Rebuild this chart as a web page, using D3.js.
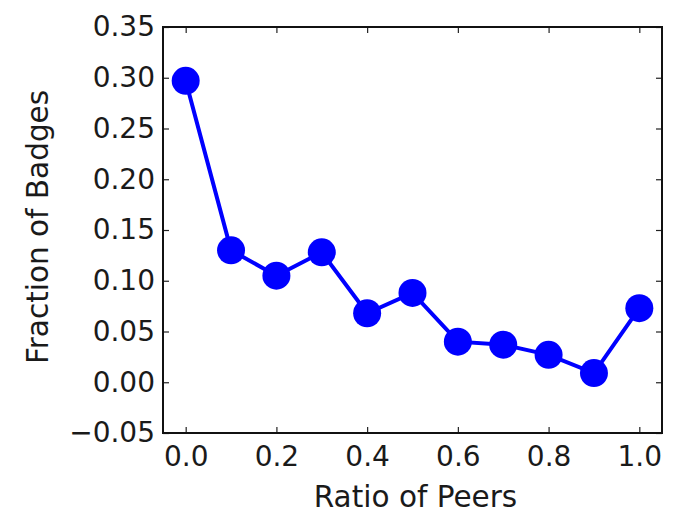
<!DOCTYPE html>
<html lang="en">
<head>
<meta charset="utf-8" />
<title>Fraction of Badges</title>
<style>
    body { margin: 0; background: #fff; }
    svg { display: block; }
</style>
<script src="https://d3js.org/d3.v7.min.js"></script>
</head>
<body>
<svg width="681" height="513"></svg>
<script>
    // chart data
    const ratios = [0.0, 0.1, 0.2, 0.3, 0.4, 0.5, 0.6, 0.7, 0.8, 0.9, 1.0];
    const fractions = [0.297, 0.130, 0.105, 0.128, 0.068, 0.088, 0.040, 0.037, 0.027, 0.009, 0.073];
    const xTicks = [0.0, 0.2, 0.4, 0.6, 0.8, 1.0];
    const yTicks = [-0.05, 0.00, 0.05, 0.10, 0.15, 0.20, 0.25, 0.30, 0.35];

    const points = ratios.map((r, i) => ({ x: r, y: fractions[i] }));

    const svg = d3.select("svg");
    const margin = { top: 27, right: 19, bottom: 80, left: 163 };
    const width = +svg.attr("width");
    const height = +svg.attr("height");
    const font = "DejaVu Sans";

    const x = d3.scaleLinear()
        .domain([-0.05, 1.05])
        .range([margin.left, width - margin.right]);

    const y = d3.scaleLinear()
        .domain([-0.05, 0.35])
        .range([height - margin.bottom, margin.top]);

    const fmtY = d => (d < 0 ? "\u2212" : "") + Math.abs(d).toFixed(2);

    // bottom / left axes, ticks pointing inward
    svg.append("g")
        .attr("transform", `translate(0,${y(-0.05)})`)
        .call(d3.axisBottom(x).tickValues(xTicks).tickFormat(d3.format(".1f")).tickSizeInner(-6).tickSizeOuter(0).tickPadding(13))
        .call(g => g.select(".domain").remove());

    svg.append("g")
        .attr("transform", `translate(${x(-0.05)},0)`)
        .call(d3.axisLeft(y).tickValues(yTicks).tickFormat(fmtY).tickSizeInner(-6).tickSizeOuter(0).tickPadding(8))
        .call(g => g.select(".domain").remove());

    // top / right mirrored ticks
    svg.append("g")
        .attr("transform", `translate(0,${y(0.35)})`)
        .call(d3.axisTop(x).tickValues(xTicks).tickFormat("").tickSizeInner(-6).tickSizeOuter(0))
        .call(g => g.select(".domain").remove());

    svg.append("g")
        .attr("transform", `translate(${x(1.05)},0)`)
        .call(d3.axisRight(y).tickValues(yTicks).tickFormat("").tickSizeInner(-6).tickSizeOuter(0))
        .call(g => g.select(".domain").remove());

    svg.selectAll(".tick line").attr("stroke", "#222").attr("stroke-width", 1.2);
    svg.selectAll(".tick text")
        .attr("font-family", font)
        .attr("font-size", 28)
        .attr("fill", "#1a1a1a");

    // frame
    svg.append("rect")
        .attr("x", x(-0.05))
        .attr("y", y(0.35))
        .attr("width", x(1.05) - x(-0.05))
        .attr("height", y(-0.05) - y(0.35))
        .attr("fill", "none")
        .attr("stroke", "#111")
        .attr("stroke-width", 2);

    const line = d3.line().x(d => x(d.x)).y(d => y(d.y));

    svg.append("path")
        .datum(points)
        .attr("d", line)
        .attr("fill", "none")
        .attr("stroke", "#0000ff")
        .attr("stroke-width", 4);

    svg.append("g")
        .selectAll("circle")
        .data(points)
        .join("circle")
        .attr("cx", d => x(d.x))
        .attr("cy", d => y(d.y))
        .attr("r", 14)
        .attr("fill", "#0000ff");

    svg.append("text")
        .attr("x", (x(-0.05) + x(1.05)) / 2 + 3)
        .attr("y", 507)
        .attr("text-anchor", "middle")
        .attr("font-family", font)
        .attr("font-size", 29.5)
        .attr("fill", "#1a1a1a")
        .text("Ratio of Peers");

    svg.append("text")
        .attr("transform", "rotate(-90)")
        .attr("x", -227)
        .attr("y", 48)
        .attr("text-anchor", "middle")
        .attr("font-family", font)
        .attr("font-size", 29.5)
        .attr("fill", "#1a1a1a")
        .text("Fraction of Badges");
</script>
</body>
</html>
